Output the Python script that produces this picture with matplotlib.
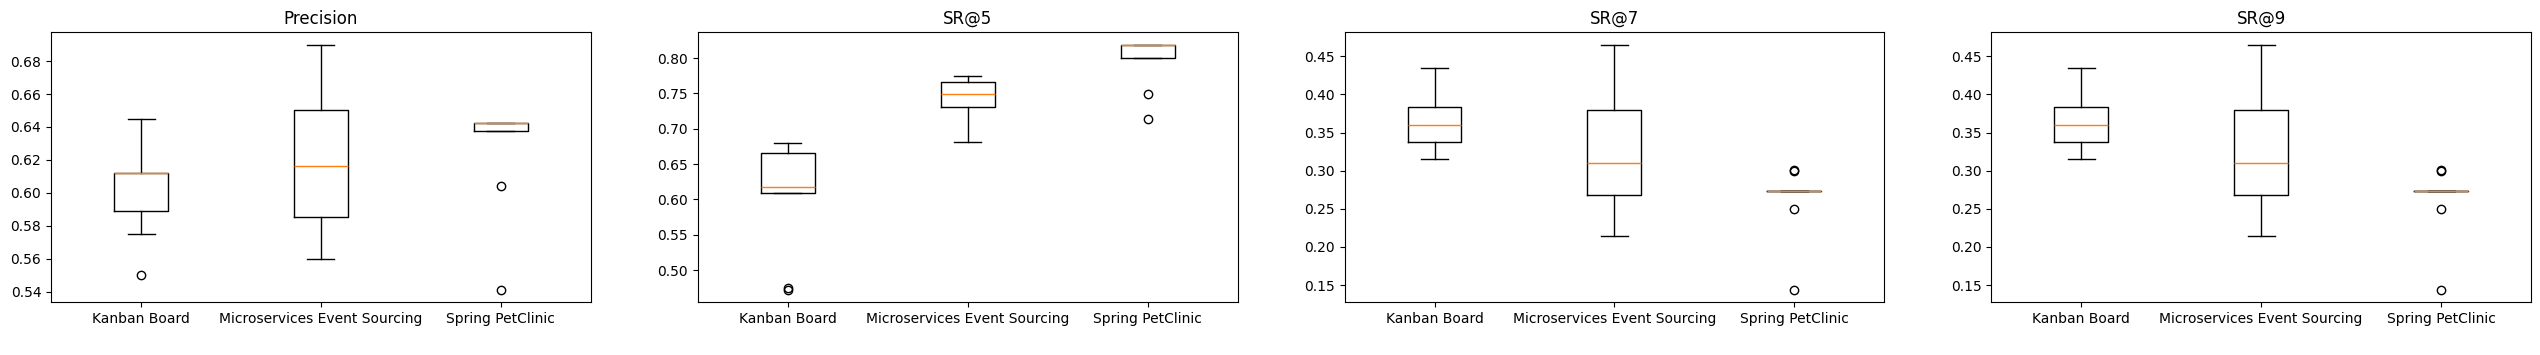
import matplotlib
matplotlib.use('Agg')
import matplotlib.pyplot as plt

# projects on the x axis
projects = ['Kanban Board', 'Microservices Event Sourcing', 'Spring PetClinic']
titles = ['Precision', 'SR@5', 'SR@7', 'SR@9']

# box statistics, one list per metric (order = projects)
precision_med = [0.612, 0.616, 0.6427]
precision_q1 = [0.589, 0.5855, 0.6378]
precision_q3 = [0.612, 0.650, 0.6427]
precision_lo = [0.575, 0.560, 0.6378]
precision_hi = [0.6447, 0.690, 0.6427]
precision_fliers = [[0.550], [], [0.604, 0.541]]

sr5_med = [0.6176, 0.7494, 0.819]
sr5_q1 = [0.609, 0.731, 0.8005]
sr5_q3 = [0.6658, 0.7665, 0.819]
sr5_lo = [0.609, 0.6814, 0.8005]
sr5_hi = [0.680, 0.775, 0.819]
sr5_fliers = [[0.4745, 0.4717], [], [0.749, 0.7135]]

sr7_med = [0.360, 0.310, 0.2733]
sr7_q1 = [0.3372, 0.2681, 0.2733]
sr7_q3 = [0.3831, 0.3796, 0.2733]
sr7_lo = [0.3153, 0.2143, 0.2733]
sr7_hi = [0.4347, 0.4653, 0.2733]
sr7_fliers = [[], [], [0.2996, 0.3004, 0.2497, 0.1434]]

sr9_med = [0.360, 0.310, 0.2733]
sr9_q1 = [0.3372, 0.2681, 0.2733]
sr9_q3 = [0.3831, 0.3796, 0.2733]
sr9_lo = [0.3153, 0.2143, 0.2733]
sr9_hi = [0.4347, 0.4653, 0.2733]
sr9_fliers = [[], [], [0.2996, 0.3004, 0.2497, 0.1434]]

metrics = [
    (precision_med, precision_q1, precision_q3, precision_lo, precision_hi, precision_fliers),
    (sr5_med, sr5_q1, sr5_q3, sr5_lo, sr5_hi, sr5_fliers),
    (sr7_med, sr7_q1, sr7_q3, sr7_lo, sr7_hi, sr7_fliers),
    (sr9_med, sr9_q1, sr9_q3, sr9_lo, sr9_hi, sr9_fliers),
]

fig, axes = plt.subplots(1, 4, figsize=(25.4, 3.55), dpi=100)
fig.subplots_adjust(left=0.0201, right=0.9965, top=0.909, bottom=0.1484, wspace=0.198)

for ax, title, (med, q1, q3, lo, hi, fl) in zip(axes, titles, metrics):
    stats = []
    for i, name in enumerate(projects):
        stats.append({'label': name, 'med': med[i], 'q1': q1[i], 'q3': q3[i],
                      'whislo': lo[i], 'whishi': hi[i], 'fliers': fl[i]})
    ax.bxp(stats, showfliers=True)
    ax.set_title(title)

fig.savefig('out.png', dpi=100)
